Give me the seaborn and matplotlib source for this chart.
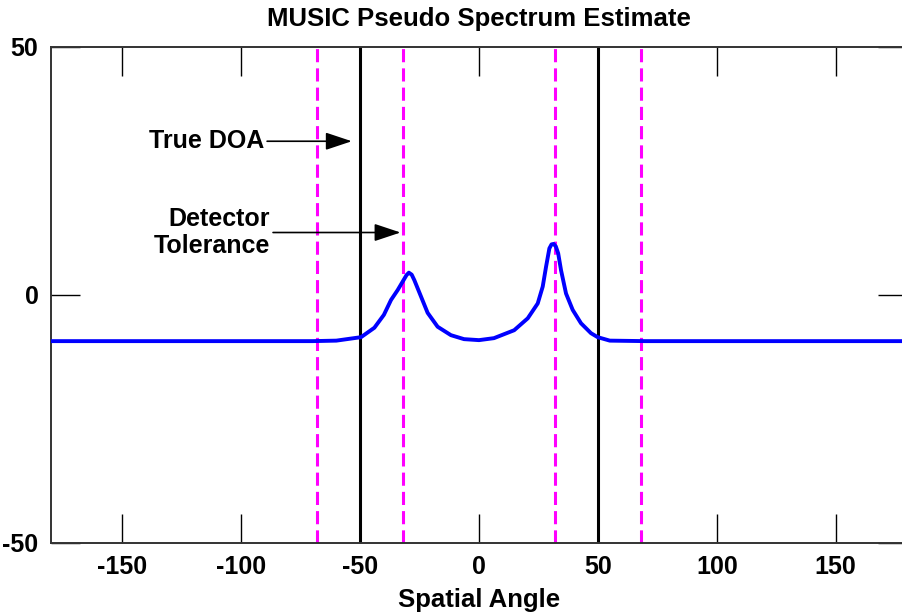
import matplotlib
matplotlib.use("Agg")
import matplotlib.pyplot as plt
import seaborn as sns
import pandas as pd

# Pseudo spectrum (dB) sampled over spatial angle (degrees)
angles = [-180, -140, -100, -70, -60, -49.6, -44, -40, -37, -34.2, -32.1, -30.5, -29.5,
          -28.3, -27.2, -24.4, -21.6, -17.4, -11.8, -6.3, 0, 6.3, 14.8, 20.5, 24.7, 26.8,
          28.2, 29.6, 30.5, 31.4, 32.3, 33.3, 34.5, 36.6, 39.4, 42.9, 47.1, 49.9, 55, 70,
          100, 140, 180]
spectrum = [-9.3, -9.3, -9.3, -9.3, -9.2, -8.5, -6.6, -4.0, -1.0, 1.0, 2.7, 4.0, 4.5,
            4.1, 3.0, -0.3, -3.6, -6.4, -8.1, -8.9, -9.1, -8.7, -7.1, -4.7, -1.7, 1.7,
            5.7, 9.4, 10.2, 10.3, 9.8, 8.4, 5.0, 0.3, -3.0, -5.7, -7.7, -8.5, -9.2, -9.3,
            -9.3, -9.3, -9.3]

true_doa = [-50, 50]
tolerance = 18
tolerance_lines = [d + s * tolerance for d in true_doa for s in (-1, 1)]

x_ticks = [-150, -100, -50, 0, 50, 100, 150]
y_ticks = [-50, 0, 50]

sns.set_style("white")
plt.rcParams["font.family"] = ["Liberation Sans", "DejaVu Sans"]
plt.rcParams["font.weight"] = "bold"
plt.rcParams["axes.unicode_minus"] = False
plt.rcParams["text.color"] = "black"
plt.rcParams["axes.labelcolor"] = "black"

df = pd.DataFrame({"angle": angles, "power": spectrum})

fig = plt.figure(figsize=(9.02, 6.15), dpi=100)
ax = fig.add_axes([51 / 902, 72 / 615, 856 / 902, 496 / 615])

for x in tolerance_lines:
    ax.axvline(x, color="#ff00ff", lw=2.2, linestyle=(0, (4.3, 2.0)), zorder=1)
for x in true_doa:
    ax.axvline(x, color="black", lw=2.2, zorder=2)

sns.lineplot(data=df, x="angle", y="power", ax=ax, color="#0000ff", lw=2.8,
             zorder=3, estimator=None, sort=False)

ax.set_xlim(-180, 180)
ax.set_ylim(-50, 50)
ax.set_xticks(x_ticks)
ax.set_yticks(y_ticks)
ax.tick_params(direction="in", length=21, width=1, top=True, right=True,
               bottom=True, left=True, labelsize=18, pad=9,
               colors="black", labelcolor="black")
for s in ax.spines.values():
    s.set_linewidth(1.4)
    s.set_color("#333333")

ax.set_xlabel("Spatial Angle", fontsize=18.5, fontweight="bold", labelpad=6,
              color="black")
ax.set_ylabel("")
ax.set_title("MUSIC Pseudo Spectrum Estimate", fontsize=18.5, fontweight="bold",
             pad=15, color="black")

arrow = dict(arrowstyle="-|>,head_length=0.9,head_width=0.3", color="black",
             lw=1.2, shrinkA=0, shrinkB=0)
ax.annotate("True DOA", xy=(-53.5, 31), xytext=(-90.5, 31), ha="right", va="center",
            fontsize=18, fontweight="bold", color="black", arrowprops=arrow)
ax.annotate("Detector\nTolerance", xy=(-33, 12.6), xytext=(-88, 12.6), ha="right",
            va="center", multialignment="right", linespacing=1.2,
            fontsize=18, fontweight="bold", color="black", arrowprops=arrow)

fig.savefig("out.png", dpi=100)
